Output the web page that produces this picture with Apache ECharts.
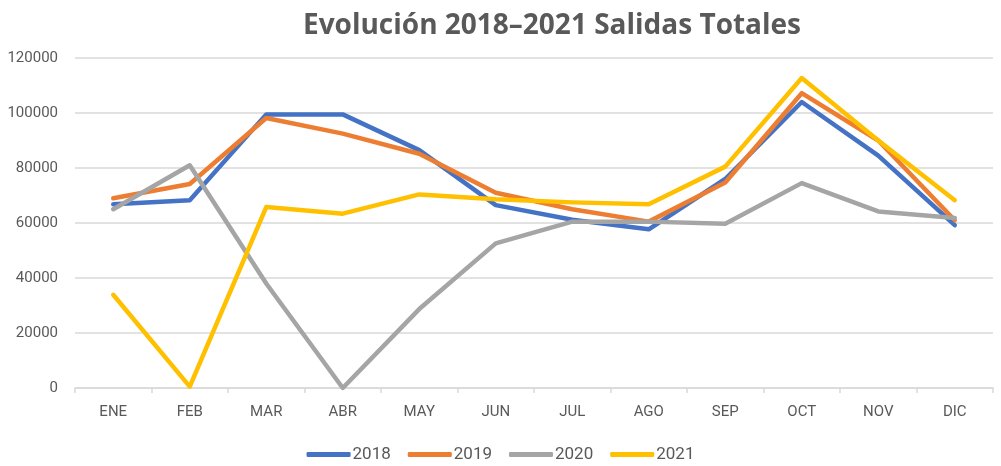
<!DOCTYPE html>
<html>
<head>
    <meta charset="UTF-8">
    <title>Salidas Totales</title>
    <script src="https://cdn.jsdelivr.net/npm/echarts@6/dist/echarts.min.js"></script>
    <style>
        *{padding:0;margin:0}
        #chart{width:1001px;height:466px;}
    </style>
</head>
<body>
<div id="chart"></div>
<script>
    var meses = ['ENE','FEB','MAR','ABR','MAY','JUN','JUL','AGO','SEP','OCT','NOV','DIC'];
    var anios = ['2018','2019','2020','2021'];
    var s2018 = [66800,68300,99500,99500,86500,66500,61200,57700,76000,104000,84500,59200];
    var s2019 = [69000,74200,98200,92500,85200,71000,65000,60500,74700,107200,90000,61000];
    var s2020 = [65000,81000,38000,0,28700,52600,60500,60500,59700,74500,64200,61800];
    var s2021 = [33900,500,65800,63400,70400,68600,67500,66800,80500,112700,90000,68300];
    var colores = ['#4472C4','#ED7D31','#A5A5A5','#FFC000'];

    var datos = [s2018, s2019, s2020, s2021];
    var series = anios.map(function(a, i){
        return {
            name: a,
            type: 'line',
            data: datos[i],
            symbol: 'none',
            lineStyle: {width: 4.5, color: colores[i], cap: 'round', join: 'round'},
            itemStyle: {color: colores[i]}
        };
    });

    var chart = echarts.init(document.getElementById('chart'));
    chart.setOption({
        animation: false,
        title: {
            text: 'Evolución 2018–2021 Salidas Totales',
            left: 547,
            textAlign: 'center',
            top: 7,
            textStyle: {fontFamily: 'Open Sans', fontSize: 28, fontWeight: 'bold', color: '#595959'}
        },
        legend: {
            data: anios,
            top: 441,
            left: 'center',
            icon: 'roundRect',
            itemWidth: 44,
            itemHeight: 5,
            itemGap: 17,
            textStyle: {fontFamily: 'Roboto', fontSize: 17, color: '#595959', padding: [0,0,0,-3]}
        },
        grid: {left: 75, right: 8, top: 58, bottom: 78},
        xAxis: {
            type: 'category',
            data: meses,
            boundaryGap: true,
            axisLine: {lineStyle: {color: '#d9d9d9', width: 1.5}},
            axisTick: {show: true, length: 5, lineStyle: {color: '#d9d9d9', width: 1.5}},
            axisLabel: {fontFamily: 'Roboto', fontSize: 15, color: '#595959', margin: 17}
        },
        yAxis: {
            type: 'value',
            min: 0,
            max: 120000,
            interval: 20000,
            axisLine: {show: false},
            axisTick: {show: false},
            axisLabel: {
                fontFamily: 'Roboto', fontSize: 15, color: '#595959', margin: 17,
                formatter: function(v){ return String(v); }
            },
            splitLine: {lineStyle: {color: '#d9d9d9', width: 1.5}}
        },
        series: series
    });
</script>
</body>
</html>
